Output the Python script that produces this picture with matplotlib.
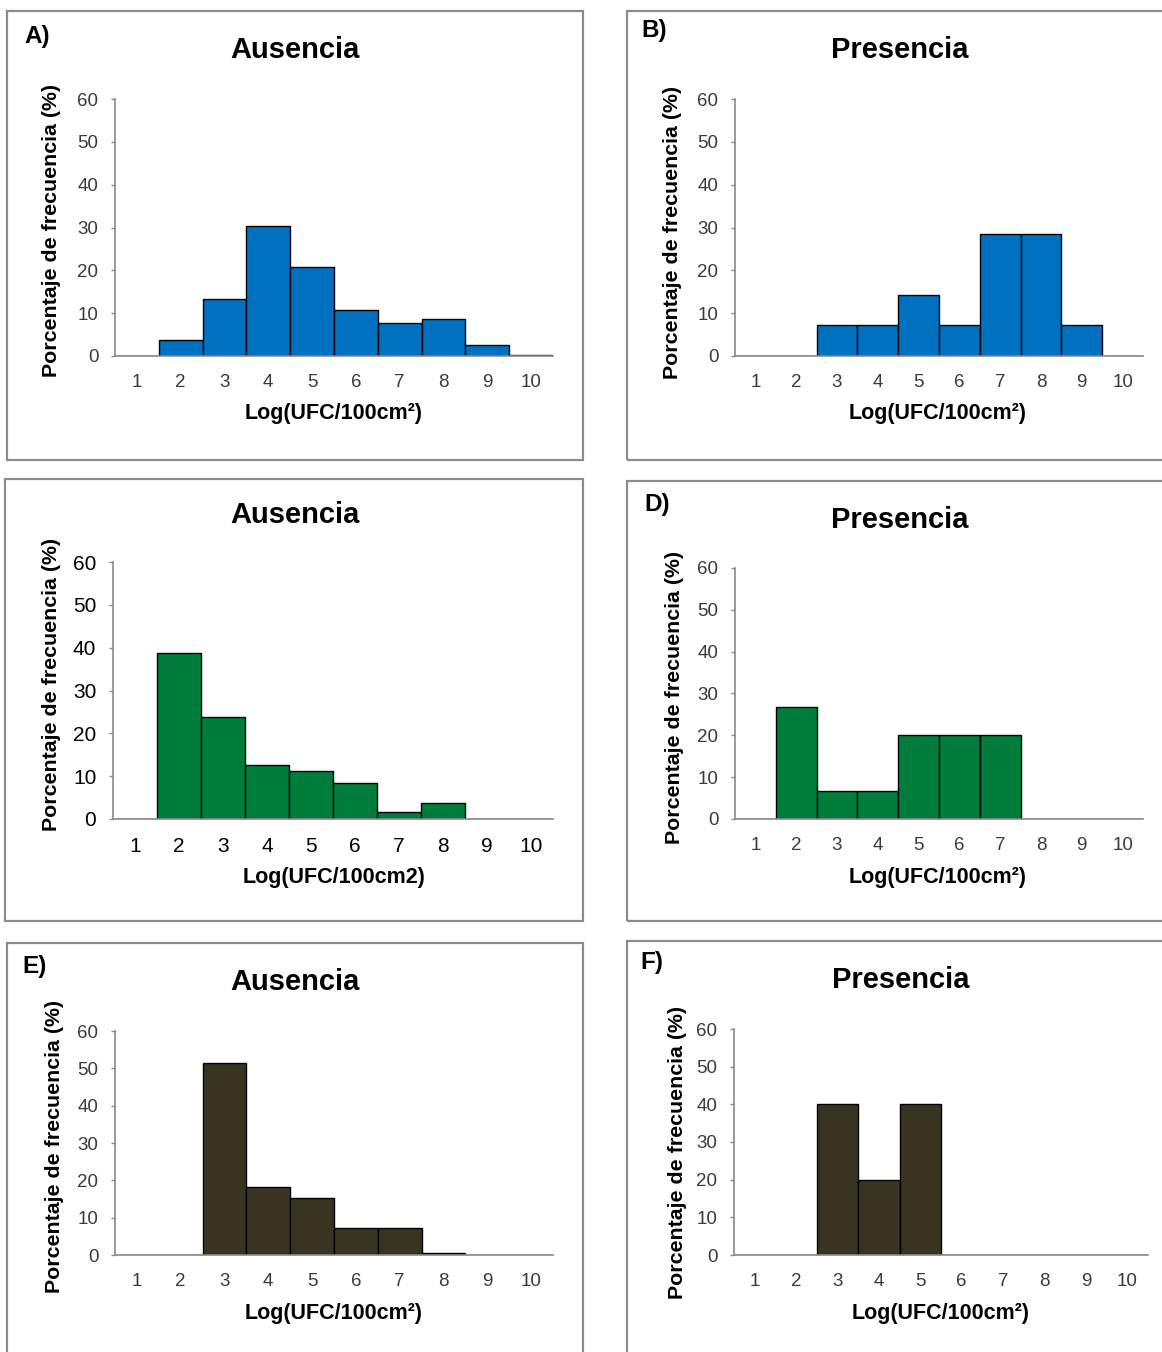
import matplotlib
matplotlib.use("Agg")
import matplotlib.pyplot as plt
from matplotlib.patches import Rectangle

plt.rcParams['font.family'] = ['Liberation Sans', 'DejaVu Sans']

# ---------------- data ----------------
categories = [1, 2, 3, 4, 5, 6, 7, 8, 9, 10]
yticks = [0, 10, 20, 30, 40, 50, 60]

a_ausencia = [0, 3.7, 13.4, 30.4, 20.8, 10.7, 7.7, 8.6, 2.5, 0.3]
b_presencia = [0, 0, 7.14, 7.14, 14.29, 7.14, 28.57, 28.57, 7.14, 0]
c_ausencia = [0, 38.8, 23.7, 12.5, 11.3, 8.3, 1.6, 3.7, 0, 0]
d_presencia = [0, 26.67, 6.67, 6.67, 20.0, 20.0, 20.0, 0, 0, 0]
e_ausencia = [0, 0, 51.3, 18.2, 15.4, 7.1, 7.1, 0.6, 0, 0]
f_presencia = [0, 0, 40.0, 20.0, 40.0, 0, 0, 0, 0, 0]

titles = ["Ausencia", "Presencia", "Ausencia", "Presencia", "Ausencia", "Presencia"]
letters = ["A)", "B)", "", "D)", "E)", "F)"]
xlabels = ["Log(UFC/100cm²)", "Log(UFC/100cm²)", "Log(UFC/100cm2)",
           "Log(UFC/100cm²)", "Log(UFC/100cm²)", "Log(UFC/100cm²)"]
ylabel = "Porcentaje de frecuencia (%)"

BLUE = "#0070C0"
GREEN = "#007D3A"
DARK = "#393322"
colors = [BLUE, BLUE, GREEN, GREEN, DARK, DARK]
series = [a_ausencia, b_presencia, c_ausencia, d_presencia, e_ausencia, f_presencia]

# ---------------- layout (pixels) ----------------
W, H = 1162, 1352
fig = plt.figure(figsize=(W / 100, H / 100), dpi=100)

# axes boxes: left, right, top, bottom (pixels)
axboxes = [
    (115, 553, 99, 356),
    (735, 1143, 99, 356),
    (113, 553, 562, 819),
    (735, 1143, 568, 819),
    (115, 553, 1031, 1255),
    (734, 1148, 1029, 1255),
]
borders = [
    (7, 11, 583, 460),
    (627, 11, 1166, 460),
    (5, 479, 583, 921),
    (627, 481, 1166, 921),
    (7, 943, 583, 1356),
    (627, 941, 1166, 1356),
]
title_pos = [(295, 50), (900, 50), (295, 515), (900, 520), (295, 982), (901, 980)]
letter_pos = [(24, 36), (641, 31), (0, 0), (644, 505), (22, 966), (640, 963)]
xlabel_pos = [(334, 414), (938, 414), (334, 878), (938, 878), (334, 1313), (941, 1313)]
ylabel_pos = [(52, 230), (672, 232), (52, 684), (675, 697), (55, 1146), (677, 1152)]

def fx(x):
    return x / W

def fy(y):
    return 1 - y / H

for (x0, y0, x1, y1) in borders:
    fig.patches.append(Rectangle((fx(x0), fy(y1)), fx(x1) - fx(x0), fy(y0) - fy(y1),
                                 transform=fig.transFigure, fill=False,
                                 edgecolor="#8c8c8c", linewidth=1.6, zorder=0))

for i in range(6):
    l, r, t, b = axboxes[i]
    ax = fig.add_axes([fx(l), fy(b), fx(r) - fx(l), fy(t) - fy(b)])
    ax.bar(categories, series[i], width=1.0, color=colors[i],
           edgecolor="black", linewidth=1.0, zorder=2)
    ax.set_xlim(0.5, 10.5)
    ax.set_ylim(0, 60)
    ax.set_xticks(categories)
    ax.set_xticklabels([str(c) for c in categories])
    ax.set_yticks(yticks)
    for s in ("top", "right"):
        ax.spines[s].set_visible(False)
    for s in ("left", "bottom"):
        ax.spines[s].set_color("#8a8a8a")
        ax.spines[s].set_linewidth(1.2)
    ax.set_facecolor("none")

    big = (i == 2)
    tcol = "black" if big else "#3a3a3a"
    tsize = 15 if big else 13.5
    ax.tick_params(axis="x", length=0, pad=13, labelsize=tsize, labelcolor=tcol)
    ax.tick_params(axis="y", length=3, width=1.0, color="#8a8a8a", pad=9,
                   labelsize=tsize, labelcolor=tcol)

    # labels
    ax.set_xlabel(xlabels[i], fontsize=15.5, fontweight="bold", va="center")
    xl, yl = xlabel_pos[i]
    ax.xaxis.set_label_coords((xl - l) / (r - l), (b - yl) / (b - t))
    ax.set_ylabel(ylabel, fontsize=15.4, fontweight="bold", va="center")
    xl, yl = ylabel_pos[i]
    ax.yaxis.set_label_coords((xl - l) / (r - l), (b - yl) / (b - t))

    tx, ty = title_pos[i]
    fig.text(fx(tx), fy(ty), titles[i], ha="center", va="center",
             fontsize=21, fontweight="bold")
    if letters[i]:
        lx, ly = letter_pos[i]
        fig.text(fx(lx), fy(ly), letters[i], ha="left", va="center",
                 fontsize=17.5, fontweight="bold")

fig.savefig("out.png", dpi=100, facecolor="white")
